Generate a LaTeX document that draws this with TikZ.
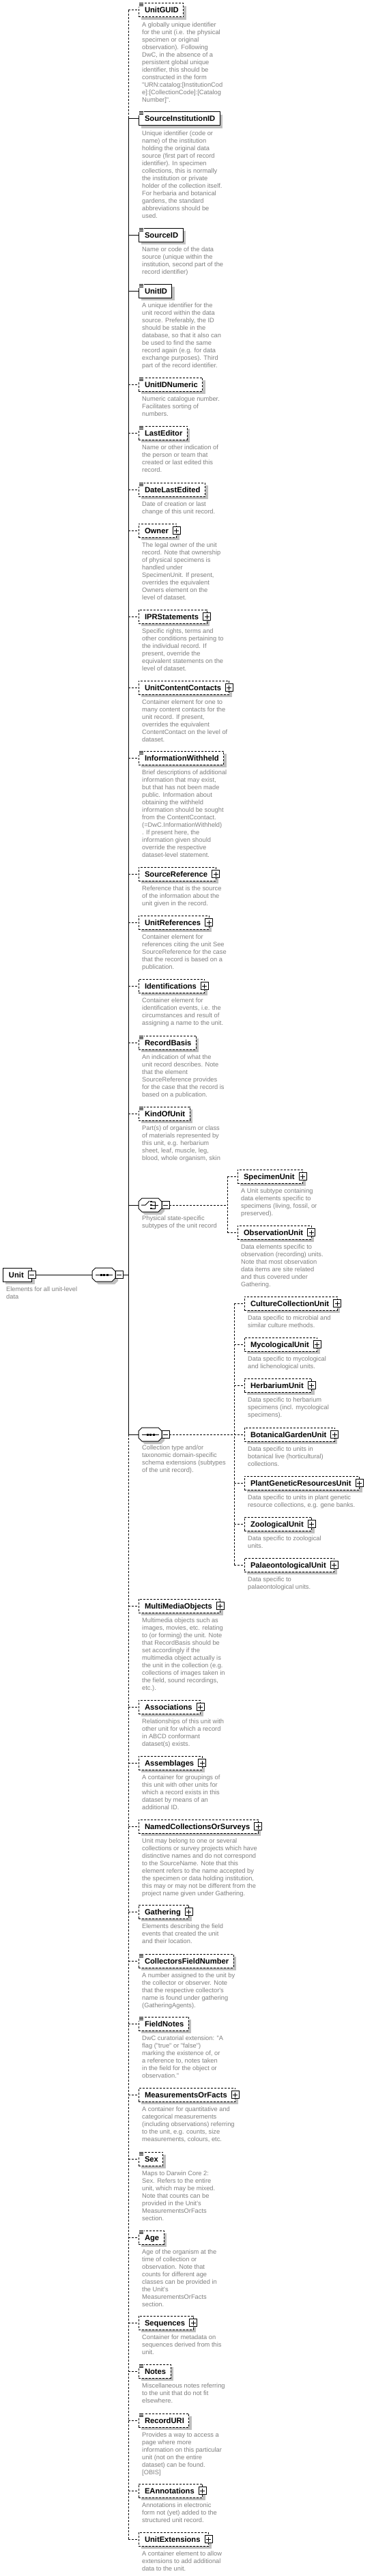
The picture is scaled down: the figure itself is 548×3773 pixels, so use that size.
\documentclass[tikz,border=0pt]{standalone}
\usepackage{fontspec}
\usetikzlibrary{shadows}
\newfontfamily\lsans{Liberation Sans}
\newcommand\namefont{\lsans\bfseries\fontsize{11.2}{13}\selectfont}
\newcommand\descfont{\lsans\fontsize{9.3}{11}\selectfont}
\definecolor{descgray}{RGB}{128,128,128}
\definecolor{shadowgray}{RGB}{192,192,192}
\tikzset{
 ln/.style={line width=1pt},
 optl/.style={dash pattern=on 3pt off 2pt},
 reql/.style={solid},
 ebox/.style={draw, fill=white, line width=1pt, inner sep=0pt, outer sep=0pt,
   minimum height=20pt, text height=8pt, text depth=0pt, font=\namefont,
   drop shadow={shadow xshift=4pt, shadow yshift=-4pt, fill=shadowgray, opacity=1}},
 desc/.style={font=\descfont, text=descgray, align=left, inner sep=0pt, anchor=north west},
 pm/.style={draw, fill=white, line width=1pt, minimum size=11pt, inner sep=0pt, outer sep=0pt}
}
\newcommand\simpleicon[1]{%
 \fill[white] ([xshift=-0.6pt,yshift=1pt]#1.north west) rectangle ([xshift=8pt,yshift=-5.5pt]#1.north west);
 \draw[line width=1pt] ([xshift=1pt]#1.north west) -- ++(6,0)
   ([xshift=1pt,yshift=-2pt]#1.north west) -- ++(6,0)
   ([xshift=1pt,yshift=-4pt]#1.north west) -- ++(6,0);
}
\newcommand\plusbox[1]{%
 \node[pm] (#1-p) at (#1.east) {};
 \draw[line width=1pt] ([xshift=-3.5pt]#1-p.center) -- ([xshift=3.5pt]#1-p.center)
   ([yshift=-3.5pt]#1-p.center) -- ([yshift=3.5pt]#1-p.center);
}
% simple element: id, x, y, line style, label, description
\newcommand\selem[6]{%
 \node[ebox,#4,anchor=west] (#1) at (#2,#3) {\hspace*{9pt}#5\hspace*{7pt}};
 \simpleicon{#1}
 \node[desc] (#1-d) at ([xshift=5pt,yshift=-8pt]#1.south west) {#6};
 \coordinate (#1-c) at ({#2-15},#3);
 \draw[ln,#4] (#1-c) -- (#1);
}
% complex element
\newcommand\celem[6]{%
 \node[ebox,#4,anchor=west] (#1) at (#2,#3) {\hspace*{9pt}#5\hspace*{12pt}};
 \plusbox{#1}
 \node[desc] (#1-d) at ([xshift=5pt,yshift=-8pt]#1.south west) {#6};
 \coordinate (#1-c) at ({#2-15},#3);
 \draw[ln,#4] (#1-c) -- (#1);
}
% compositor: id, x, y
\newcommand\octa[3]{%
 \begin{scope}[shift={(#2,#3)}]
  \fill[shadowgray] (9,-6) -- (33,-6) -- (38,-1) -- (38,9) -- (33,14) -- (9,14) -- (4,9) -- (4,-1) -- cycle;
  \filldraw[fill=white, line width=1pt] (5,-10) -- (29,-10) -- (34,-5) -- (34,5) -- (29,10) -- (5,10) -- (0,5) -- (0,-5) -- cycle;
 \end{scope}
 \node[minimum width=34pt, minimum height=20pt, inner sep=0pt, outer sep=0pt, anchor=west] (#1) at (#2,#3) {};
 \node[pm, anchor=west] (#1-m) at (#1.east) {};
 \draw[line width=1pt] ([xshift=-3.5pt]#1-m.center) -- ([xshift=3.5pt]#1-m.center);
}
\newcommand\seqsym[2]{%
 \begin{scope}[shift={(#1,#2)}]
  \draw[line width=1pt] (5,0) -- (30,0);
  \foreach \d in {13,17.5,22} \fill (\d-1.5,-1.5) rectangle (\d+1.5,1.5);
 \end{scope}
}
\newcommand\choicesym[2]{%
 \begin{scope}[shift={(#1,#2)}]
  \draw[line width=1pt] (4,0) -- (10,0) -- (16,-6);
  \foreach \d in {-5,0,5} \fill (17,\d-1) rectangle (19.5,\d+1);
  \draw[line width=1pt] (19,-5) -- (24,-5) -- (24,5) -- (19,5) (19,0) -- (29,0);
 \end{scope}
}
\begin{document}
\begin{tikzpicture}[x=1pt,y=-1pt]
\useasboundingbox (0,0) rectangle (548,3773);
\fill[white] (0,0) rectangle (548,3773);

% root element
\node[ebox,reql,anchor=west] (unit) at (4,1867) {\hspace*{9pt}Unit\hspace*{12pt}};
\node[pm] (unit-m) at (unit.east) {};
\draw[line width=1pt] ([xshift=-3.5pt]unit-m.center) -- ([xshift=3.5pt]unit-m.center);
\node[desc] (unit-d) at ([xshift=5pt,yshift=-8pt]unit.south west) {Elements for all unit-level\\data};
\octa{rootseq}{135}{1867}
\seqsym{135}{1867}
\draw[ln] (unit-m) -- (rootseq);
\coordinate (sp-mid) at (188,1867);
\draw[ln] (rootseq-m) -- (sp-mid);

% main children
\selem{guid}{203}{15}{optl}{UnitGUID}{A globally unique identifier\\for the unit (i.e. the physical\\specimen or original\\observation). Following\\DwC, in the absence of a\\persistent global unique\\identifier, this should be\\constructed in the form\\"URN:catalog:[InstitutionCod\\e]:[CollectionCode]:[Catalog\\Number]".}
\selem{sii}{203}{174}{reql}{SourceInstitutionID}{Unique identifier (code or\\name) of the institution\\holding the original data\\source (first part of record\\identifier). In specimen\\collections, this is normally\\the institution or private\\holder of the collection itself.\\For herbaria and botanical\\gardens, the standard\\abbreviations should be\\used.}
\selem{sid}{203}{344}{reql}{SourceID}{Name or code of the data\\source (unique within the\\institution, second part of the\\record identifier)}
\selem{uid}{203}{426}{reql}{UnitID}{A unique identifier for the\\unit record within the data\\source. Preferably, the ID\\should be stable in the\\database, so that it also can\\be used to find the same\\record again (e.g. for data\\exchange purposes). Third\\part of the record identifier.}
\selem{uidn}{203}{563}{optl}{UnitIDNumeric}{Numeric catalogue number.\\Facilitates sorting of\\numbers.}
\selem{led}{203}{634}{optl}{LastEditor}{Name or other indication of\\the person or team that\\created or last edited this\\record.}
\selem{dle}{203}{717}{optl}{DateLastEdited}{Date of creation or last\\change of this unit record.}
\celem{own}{203}{777}{optl}{Owner}{The legal owner of the unit\\record. Note that ownership\\of physical specimens is\\handled under\\SpecimenUnit. If present,\\overrides the equivalent\\Owners element on the\\level of dataset.}
\celem{ipr}{203}{903}{optl}{IPRStatements}{Specific rights, terms and\\other conditions pertaining to\\the individual record. If\\present, override the\\equivalent statements on the\\level of dataset.}
\celem{ucc}{203}{1007}{optl}{UnitContentContacts}{Container element for one to\\many content contacts for the\\unit record. If present,\\overrides the equivalent\\ContentContact on the level of\\dataset.}
\selem{iw}{203}{1110}{optl}{InformationWithheld}{Brief descriptions of additional\\information that may exist,\\but that has not been made\\public. Information about\\obtaining the withheld\\information should be sought\\from the ContentCcontact.\\(=DwC.InformationWithheld)\\. If present here, the\\information given should\\override the respective\\dataset-level statement.}
\celem{sref}{203}{1280}{optl}{SourceReference}{Reference that is the source\\of the information about the\\unit given in the record.}
\celem{uref}{203}{1351}{optl}{UnitReferences}{Container element for\\references citing the unit See\\SourceReference for the case\\that the record is based on a\\publication.}
\celem{ident}{203}{1444}{optl}{Identifications}{Container element for\\identification events, i.e. the\\circumstances and result of\\assigning a name to the unit.}
\selem{rb}{203}{1527}{optl}{RecordBasis}{An indication of what the\\unit record describes. Note\\that the element\\SourceReference provides\\for the case that the record is\\based on a publication.}
\selem{kou}{203}{1631}{optl}{KindOfUnit}{Part(s) of organism or class\\of materials represented by\\this unit, e.g. herbarium\\sheet, leaf, muscle, leg,\\blood, whole organism, skin}

% choice compositor
\octa{choice}{203}{1765}
\choicesym{203}{1765}
\node[desc] (choice-d) at (208,1781) {Physical state-specific\\subtypes of the unit record};
\coordinate (choice-c) at (188,1765);
\draw[ln] (choice-c) -- (choice);
\celem{spec}{348}{1723}{optl}{SpecimenUnit}{A Unit subtype containing\\data elements specific to\\specimens (living, fossil, or\\preserved).}
\celem{obs}{348}{1805}{optl}{ObservationUnit}{Data elements specific to\\observation (recording) units.\\Note that most observation\\data items are site related\\and thus covered under\\Gathering.}
\coordinate (choice-j) at (333,1765);
\draw[ln,optl] (choice-m) -- (choice-j);
\draw[ln,optl] (spec-c) -- (obs-c);

% sequence compositor of subtypes
\octa{seq2}{203}{2101}
\seqsym{203}{2101}
\node[desc] (seq2-d) at (208,2117) {Collection type and/or\\taxonomic domain-specific\\schema extensions (subtypes\\of the unit record).};
\coordinate (seq2-c) at (188,2101);
\draw[ln] (seq2-c) -- (seq2);
\celem{ccu}{358}{1909}{optl}{CultureCollectionUnit}{Data specific to microbial and\\similar culture methods.}
\celem{myc}{358}{1969}{optl}{MycologicalUnit}{Data specific to mycological\\and lichenological units.}
\celem{herb}{358}{2029}{optl}{HerbariumUnit}{Data specific to herbarium\\specimens (incl. mycological\\specimens).}
\celem{bot}{358}{2101}{optl}{BotanicalGardenUnit}{Data specific to units in\\botanical live (horticultural)\\collections.}
\celem{pgr}{358}{2172}{optl}{PlantGeneticResourcesUnit}{Data specific to units in plant genetic\\resource collections, e.g. gene banks.}
\celem{zoo}{358}{2232}{optl}{ZoologicalUnit}{Data specific to zoological\\units.}
\celem{pal}{358}{2292}{optl}{PalaeontologicalUnit}{Data specific to\\palaeontological units.}
\coordinate (seq2-j) at (343,2101);
\draw[ln,optl] (seq2-m) -- (seq2-j);
\draw[ln,optl] (ccu-c) -- (pal-c);

\celem{mmo}{203}{2352}{optl}{MultiMediaObjects}{Multimedia objects such as\\images, movies, etc. relating\\to (or forming) the unit. Note\\that RecordBasis should be\\set accordingly if the\\multimedia object actually is\\the unit in the collection (e.g.\\collections of images taken in\\the field, sound recordings,\\etc.).}
\celem{assoc}{203}{2500}{optl}{Associations}{Relationships of this unit with\\other unit for which a record\\in ABCD conformant\\dataset(s) exists.}
\celem{assem}{203}{2582}{optl}{Assemblages}{A container for groupings of\\this unit with other units for\\which a record exists in this\\dataset by means of an\\additional ID.}
\celem{ncos}{203}{2675}{optl}{NamedCollectionsOrSurveys}{Unit may belong to one or several\\collections or survey projects which have\\distinctive names and do not correspond\\to the SourceName. Note that this\\element refers to the name accepted by\\the specimen or data holding institution,\\this may or may not be different from the\\project name given under Gathering.}
\celem{gath}{203}{2800}{optl}{Gathering}{Elements describing the field\\events that created the unit\\and their location.}
\selem{cfn}{203}{2872}{optl}{CollectorsFieldNumber}{A number assigned to the unit by\\the collector or observer. Note\\that the respective collector's\\name is found under gathering\\(GatheringAgents).}
\selem{fn}{203}{2964}{optl}{FieldNotes}{DwC curatorial extension: "A\\flag ("true" or "false")\\marking the existence of, or\\a reference to, notes taken\\in the field for the object or\\observation."}
\celem{mof}{203}{3068}{optl}{MeasurementsOrFacts}{A container for quantitative and\\categorical measurements\\(including observations) referring\\to the unit, e.g. counts, size\\measurements, colours, etc.}
\selem{sex}{203}{3162}{optl}{Sex}{Maps to Darwin Core 2:\\Sex. Refers to the entire\\unit, which may be mixed.\\Note that counts can be\\provided in the Unit's\\MeasurementsOrFacts\\section.}
\selem{age}{203}{3277}{optl}{Age}{Age of the organism at the\\time of collection or\\observation. Note that\\counts for different age\\classes can be provided in\\the Unit's\\MeasurementsOrFacts\\section.}
\celem{seqs}{203}{3402}{optl}{Sequences}{Container for metadata on\\sequences derived from this\\unit.}
\selem{notes}{203}{3473}{optl}{Notes}{Miscellaneous notes referring\\to the unit that do not fit\\elsewhere.}
\selem{uri}{203}{3545}{optl}{RecordURI}{Provides a way to access a\\page where more\\information on this particular\\unit (not on the entire\\dataset) can be found.\\{[OBIS]}}
\celem{eann}{203}{3648}{optl}{EAnnotations}{Annotations in electronic\\form not (yet) added to the\\structured unit record.}
\celem{uext}{203}{3719}{optl}{UnitExtensions}{A container element to allow\\extensions to add additional\\data to the unit.}

% main spine
\draw[ln,optl] (guid-c) -- (sii-c);
\draw[ln] (sii-c) -- (seq2-c);
\draw[ln,optl] (seq2-c) -- (uext-c);
\end{tikzpicture}
\end{document}
